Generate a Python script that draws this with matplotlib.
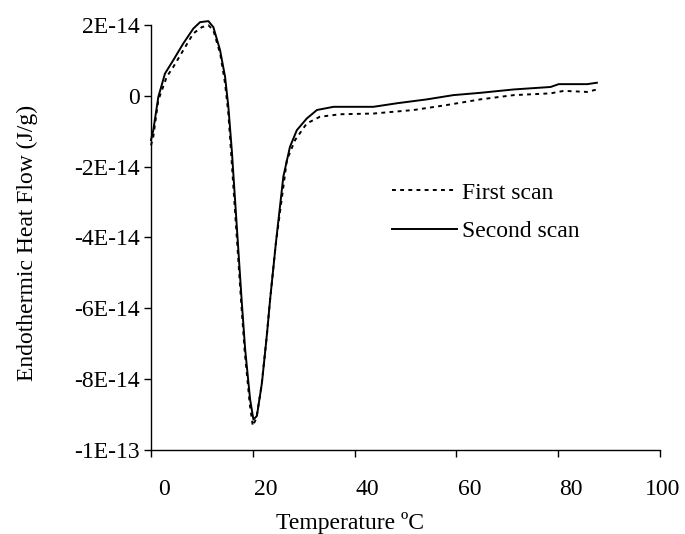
import numpy as np
import matplotlib
matplotlib.use("Agg")
import matplotlib.pyplot as plt
import matplotlib.transforms as mtransforms

# temperature (C) and heat flow (units of 1E-14 J/g)
second_x = [0, 0.45, 1.44, 2.75, 4.39, 6.35, 8.32, 9.64, 11.27, 12.25, 13.57, 14.55,
            15.2, 15.87, 17.8, 18.5, 19.47, 20.12, 20.8, 21.8, 22.8, 23.4, 24.6, 26.0,
            27.3, 28.65, 30.6, 32.6, 35.85, 41.1, 43.7, 48.3, 54.2, 59.4, 64.7, 71.25,
            78.5, 80.1, 83.1, 85.7, 87.6]
second_y = [-1.25, -0.97, -0.03, 0.63, 1.01, 1.48, 1.90, 2.08, 2.11, 1.94, 1.29, 0.54,
            -0.31, -1.53, -5.75, -7.16, -8.57, -9.14, -9.04, -8.1, -6.7, -5.75, -4.07, -2.28,
            -1.44, -0.97, -0.64, -0.40, -0.31, -0.31, -0.31, -0.21, -0.10, 0.02, 0.085, 0.18,
            0.25, 0.33, 0.33, 0.33, 0.37]

first_x = [0, 0.45, 1.44, 3.1, 4.4, 6.35, 8.3, 10.0, 11.3, 12.25, 13.6, 14.55, 15.2,
           15.7, 17.7, 18.4, 19.4, 20.0, 20.7, 21.7, 22.7, 23.3, 24.5, 26.7, 28.3, 30.6,
           33.2, 37.2, 43.7, 51.6, 58.1, 64.7, 71.25, 78.5, 81.1, 85.7, 87.6]
first_y = [-1.4, -1.15, -0.12, 0.54, 0.82, 1.29, 1.76, 1.94, 1.99, 1.85, 1.19, 0.35, -0.5,
           -1.53, -5.8, -7.2, -8.7, -9.32, -9.1, -8.2, -6.85, -5.9, -4.2, -1.81, -1.25, -0.78,
           -0.59, -0.52, -0.50, -0.40, -0.26, -0.10, 0.02, 0.07, 0.14, 0.11, 0.18]

x_ticks = [0, 20, 40, 60, 80, 100]
y_ticks = [2e-14, 0, -2e-14, -4e-14, -6e-14, -8e-14, -1e-13]
y_tick_labels = ["2E-14", "0", "-2E-14", "-4E-14", "-6E-14", "-8E-14", "-1E-13"]

plt.rcParams['font.family'] = ['Liberation Serif', 'DejaVu Serif']
plt.rcParams['font.size'] = 17

fig = plt.figure(figsize=(6.85, 5.34), dpi=100)
ax = fig.add_axes([151 / 685, 1 - 450 / 534, (660 - 151) / 685, (450 - 25) / 534])

ax.plot(first_x, np.array(first_y) * 1e-14, color='black', lw=1.4,
        linestyle=(0, (2.0, 2.2)), label='First scan', clip_on=False)
ax.plot(second_x, np.array(second_y) * 1e-14, color='black', lw=1.4,
        label='Second scan', clip_on=False)

ax.set_xlim(0, 100)
ax.set_ylim(-1e-13, 2e-14)
ax.set_xticks(x_ticks)
ax.set_yticks(y_ticks)
ax.set_yticklabels(y_tick_labels)

for s in ['top', 'right']:
    ax.spines[s].set_visible(False)
for s in ['left', 'bottom']:
    ax.spines[s].set_linewidth(1.0)

ax.tick_params(axis='both', direction='out', length=5, width=1.0, color='black')
ax.tick_params(axis='y', pad=3)
ax.tick_params(axis='x', pad=16)

# excel puts the x labels a bit right of their ticks
for i, lab in enumerate(ax.get_xticklabels()):
    dx = 13 if i < len(x_ticks) - 1 else 2.5
    lab.set_transform(lab.get_transform() +
                      mtransforms.ScaledTranslation(dx / 100, 0, fig.dpi_scale_trans))

ax.set_xlabel("Temperature ºC")
ax.xaxis.set_label_coords((350 - 151) / (660 - 151), -62 / 425)
ax.set_ylabel("Endothermic Heat Flow (J/g)")
ax.yaxis.set_label_coords(-(151 - 38) / (660 - 151), (450 - 243) / (450 - 25))

ax.legend(loc='upper left', bbox_to_anchor=(392 / 685, 1 - 182 / 534),
          bbox_transform=fig.transFigure, frameon=False, borderpad=0,
          borderaxespad=0, handlelength=2.75, handletextpad=0.2, labelspacing=0.72)

fig.savefig('out.png', dpi=100)
